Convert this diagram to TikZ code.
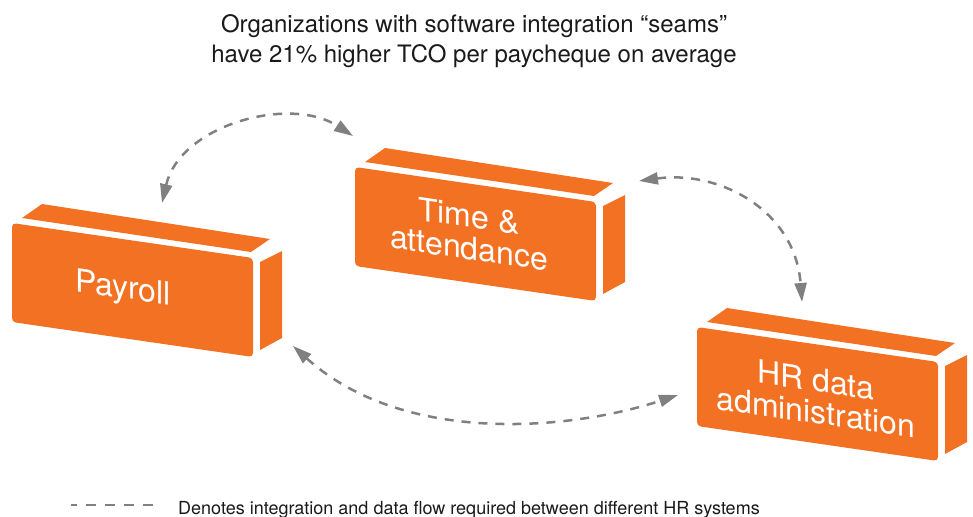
\documentclass[tikz,border=0pt]{standalone}
\usepackage{fontspec}
\setmainfont{TeX Gyre Heros}
\usetikzlibrary{arrows.meta}
\definecolor{boxorange}{RGB}{243,113,35}
\definecolor{flowgray}{RGB}{128,128,128}
\definecolor{inkdark}{RGB}{26,26,26}

\begin{document}
\begin{tikzpicture}[x=1pt,y=-1pt,
  boxface/.style={fill=boxorange},
  boxlabel/.style={text=white, font=\fontsize{32}{32}\selectfont, align=center,
    inner sep=0pt, yslant=-0.145},
  headline/.style={text=inkdark, font=\fontsize{24}{30}\selectfont, align=center, inner sep=0pt},
  keytext/.style={text=inkdark, font=\fontsize{18}{18}\selectfont, inner sep=0pt, anchor=base west},
  flow/.style={draw=flowgray, line width=2.5pt, dash pattern=on 9pt off 8pt,
    >={Triangle[length=19pt,width=12pt]}, <->},
  keyline/.style={draw=flowgray, line width=2pt, dash pattern=on 10pt off 9pt, dash phase=4pt},
  % a skewed 3-D block: front face, top face and right side, separated by thin gaps
  sysbox/.pic={
    \fill[boxface, rounded corners=4pt] (0,0) -- (241,35) -- (241,134) -- (0,99) -- cycle;
    \fill[boxface] (10,-5) -- (30,-19) -- (258,16) -- (239,29) -- cycle;
    \fill[boxface] (248,39) -- (270,28) -- (270,115) -- (248,127) -- cycle;
  }
]
\useasboundingbox (0,0) rectangle (973,516);

% title
\node[headline] (headline) at (474,40.8)
  {Organizations with software integration “seams”\\have 21\% higher TCO per paycheque on average};

% the three systems
\pic at (12,223) {sysbox};
\pic at (355,167) {sysbox};
\pic at (697,327) {sysbox};
\node[boxlabel] (payroll) at (123,290) {Payroll};
\node[boxlabel] (timeatt) at (469,232) {Time \&\\attendance};
\node[boxlabel] (hrdata) at (816,396) {HR data\\administration};

% arrow end points around the blocks
\coordinate (payroll-up) at (162,203);
\coordinate (time-in) at (353,136);
\coordinate (time-out) at (639,181);
\coordinate (hr-up) at (802,302);
\coordinate (payroll-side) at (293,346);
\coordinate (hr-in) at (678,395);

% integration flows
\draw[flow] (payroll-up) .. controls (180,125) and (290,95) .. (time-in);
\draw[flow] (time-out) .. controls (719,170) and (795,210) .. (hr-up);
\draw[flow] (payroll-side) .. controls (403,445) and (568,431) .. (hr-in);

% legend
\coordinate (key-start) at (71,505);
\coordinate (key-end) at (155,505);
\draw[keyline] (key-start) -- (key-end);
\node[keytext] (keylabel) at (178,514)
  {Denotes integration and data flow required between different HR systems};
\end{tikzpicture}
\end{document}
